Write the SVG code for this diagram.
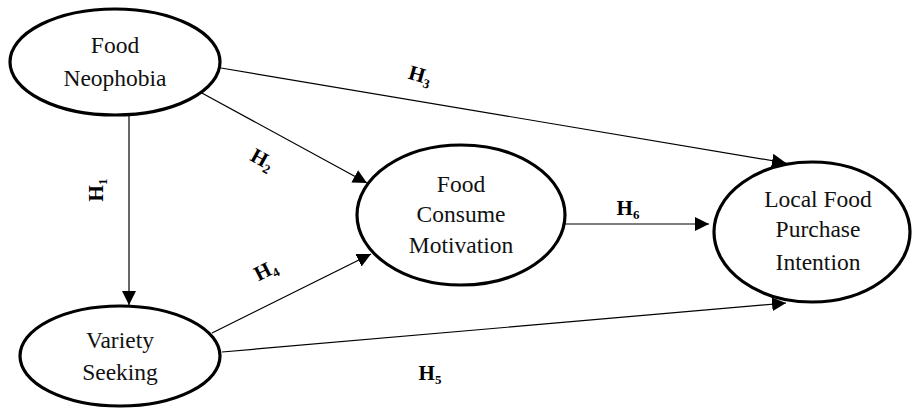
<svg xmlns="http://www.w3.org/2000/svg" width="915" height="410" viewBox="0 0 915 410">
<defs>
<style>
.node ellipse{fill:#fff;stroke:#000;stroke-width:3.2}
.node text{font-family:'Liberation Serif','Times New Roman','DejaVu Serif',serif;font-size:23.5px;fill:#111;text-anchor:middle}
.conn line{stroke:#000;stroke-width:1.2;marker-end:url(#ah)}
.lbl{font-family:'Liberation Serif','Times New Roman','DejaVu Serif',serif;font-size:21px;font-weight:bold;fill:#000;text-anchor:middle}
.sub{font-size:13px}
</style>
<marker id="ah" viewBox="0 0 10 10" refX="10" refY="5" markerWidth="14" markerHeight="14" markerUnits="userSpaceOnUse" orient="auto">
<path d="M0,0 L10,5 L0,10 z" fill="#000"/>
</marker>
</defs>
<rect width="915" height="410" fill="#fff"/>
<g id="connectors" class="conn">
<line x1="129" y1="116" x2="129" y2="305"/>
<line x1="200" y1="92" x2="367" y2="183"/>
<line x1="221" y1="68" x2="786" y2="163"/>
<line x1="212" y1="333" x2="371" y2="254"/>
<line x1="222" y1="352" x2="786" y2="303"/>
<line x1="565" y1="224" x2="709" y2="224"/>
</g>
<g id="labels">
<text class="lbl" transform="translate(97,190) rotate(-90)" dy="6">H<tspan class="sub" dy="4">1</tspan></text>
<text class="lbl" transform="translate(262,160) rotate(29)" dy="6">H<tspan class="sub" dy="4">2</tspan></text>
<text class="lbl" transform="translate(420,76) rotate(16)" dy="6">H<tspan class="sub" dy="4">3</tspan></text>
<text class="lbl" transform="translate(266,271) rotate(-27)" dy="6">H<tspan class="sub" dy="4">4</tspan></text>
<text class="lbl" x="430" y="380">H<tspan class="sub" dy="4">5</tspan></text>
<text class="lbl" x="628" y="215">H<tspan class="sub" dy="4">6</tspan></text>
</g>
<g id="food-neophobia" class="node">
<ellipse cx="115" cy="62" rx="105" ry="53"/>
<text x="115" y="53">Food</text>
<text x="115" y="86">Neophobia</text>
</g>
<g id="variety-seeking" class="node">
<ellipse cx="120" cy="356" rx="100" ry="50"/>
<text x="120" y="348">Variety</text>
<text x="120" y="380">Seeking</text>
</g>
<g id="food-consume-motivation" class="node">
<ellipse cx="461" cy="215" rx="104" ry="70"/>
<text x="461" y="192">Food</text>
<text x="461" y="222">Consume</text>
<text x="461" y="253">Motivation</text>
</g>
<g id="local-food-purchase-intention" class="node">
<ellipse cx="812" cy="232" rx="98" ry="70"/>
<text x="818" y="207">Local Food</text>
<text x="818" y="237">Purchase</text>
<text x="818" y="270">Intention</text>
</g>
</svg>
